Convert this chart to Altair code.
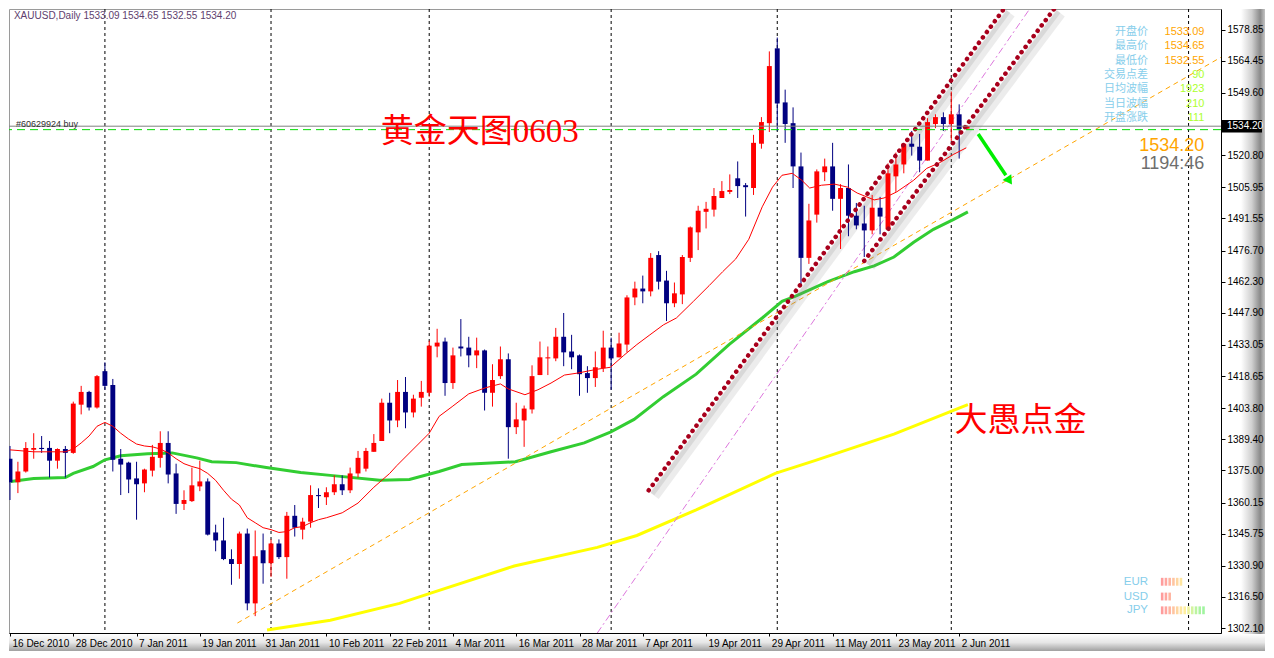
import altair as alt
import pandas as pd

# ---------------- data ----------------
tick_labels = ["16 Dec 2010", "28 Dec 2010", "7 Jan 2011", "19 Jan 2011", "31 Jan 2011",
               "10 Feb 2011", "22 Feb 2011", "4 Mar 2011", "16 Mar 2011", "28 Mar 2011",
               "7 Apr 2011", "19 Apr 2011", "29 Apr 2011", "11 May 2011", "23 May 2011",
               "2 Jun 2011"]
tick_step = 8

opens = [1380.4, 1369.5, 1374.5, 1384.5, 1385.4, 1385.4, 1379.5, 1384.9, 1383.1, 1405.4,
         1411.3, 1404.1, 1420.9, 1414.5, 1380.4, 1378.6, 1371.3, 1369.0, 1374.9, 1380.8,
         1387.7, 1373.6, 1359.5, 1360.8, 1367.6, 1369.9, 1346.3, 1342.6, 1334.0, 1331.7,
         1345.8, 1313.5, 1338.1, 1332.1, 1341.2, 1334.9, 1354.0, 1347.6, 1351.3, 1363.6,
         1362.6, 1364.9, 1368.6, 1365.8, 1373.6, 1375.8, 1383.6, 1388.6, 1406.3, 1398.1,
         1411.3, 1401.8, 1408.6, 1410.9, 1432.3, 1434.6, 1415.4, 1432.3, 1431.8, 1428.2,
         1430.5, 1410.9, 1418.6, 1426.4, 1395.0, 1398.1, 1403.2, 1419.1, 1426.8, 1426.8,
         1436.8, 1430.0, 1428.2, 1420.0, 1417.7, 1422.3, 1431.8, 1427.3, 1433.2, 1455.0,
         1459.1, 1457.8, 1474.6, 1462.8, 1452.3, 1456.4, 1473.3, 1485.1, 1494.6, 1495.6,
         1501.0, 1503.8, 1510.1, 1506.9, 1505.6, 1526.1, 1535.6, 1570.2, 1545.2, 1535.6,
         1515.6, 1473.3, 1493.3, 1512.9, 1515.6, 1500.6, 1505.6, 1492.8, 1489.2, 1486.0,
         1496.5, 1486.5, 1511.0, 1516.5, 1526.1, 1524.7, 1518.3, 1535.2, 1538.4, 1535.2,
         1539.7, 1533.09]
highs = [1386.3, 1379.0, 1388.1, 1392.2, 1390.9, 1388.6, 1385.2, 1386.3, 1406.8, 1414.1,
         1411.8, 1419.1, 1425.0, 1417.3, 1384.9, 1379.0, 1379.0, 1375.8, 1386.8, 1393.1,
         1393.1, 1378.1, 1365.8, 1376.3, 1379.5, 1371.3, 1349.9, 1353.1, 1338.5, 1346.7,
         1348.1, 1347.2, 1345.8, 1343.1, 1343.1, 1355.8, 1359.0, 1353.1, 1368.1, 1366.7,
         1367.2, 1372.7, 1372.7, 1376.3, 1384.0, 1385.4, 1391.8, 1408.2, 1410.9, 1416.8,
         1418.2, 1410.0, 1416.4, 1435.0, 1440.5, 1436.4, 1431.8, 1445.0, 1436.8, 1436.4,
         1430.9, 1424.1, 1432.3, 1429.1, 1406.3, 1405.0, 1423.6, 1434.6, 1432.3, 1440.9,
         1447.8, 1437.7, 1428.6, 1423.2, 1430.0, 1439.6, 1436.4, 1438.7, 1456.0, 1462.3,
         1465.1, 1475.5, 1476.4, 1467.3, 1461.9, 1474.6, 1487.8, 1497.4, 1499.2, 1505.6,
         1508.8, 1511.9, 1517.9, 1507.9, 1530.2, 1538.4, 1568.8, 1575.2, 1551.1, 1542.9,
         1522.0, 1498.3, 1514.2, 1519.2, 1526.5, 1507.4, 1516.5, 1498.7, 1497.4, 1502.4,
         1501.5, 1517.0, 1522.0, 1526.5, 1532.0, 1530.6, 1537.9, 1539.7, 1540.6, 1550.2,
         1544.3, 1534.65]
lows = [1361.3, 1364.5, 1374.0, 1380.4, 1383.1, 1371.7, 1375.8, 1371.7, 1382.7, 1400.9,
        1402.7, 1403.6, 1412.3, 1374.5, 1363.6, 1364.5, 1352.2, 1364.9, 1372.2, 1376.3,
        1369.0, 1354.9, 1356.7, 1360.4, 1365.4, 1344.9, 1337.6, 1333.5, 1322.1, 1324.9,
        1310.3, 1307.6, 1322.6, 1325.8, 1334.0, 1324.9, 1344.4, 1343.1, 1348.5, 1357.6,
        1359.0, 1363.6, 1363.6, 1364.5, 1371.7, 1374.5, 1383.6, 1388.6, 1392.2, 1395.0,
        1394.5, 1399.5, 1404.5, 1409.1, 1427.3, 1409.5, 1412.7, 1427.7, 1422.7, 1422.3,
        1402.7, 1404.5, 1417.3, 1380.4, 1391.8, 1385.9, 1401.3, 1419.1, 1419.1, 1425.5,
        1423.2, 1421.8, 1409.5, 1410.9, 1413.6, 1420.5, 1412.3, 1427.3, 1429.6, 1451.4,
        1452.3, 1455.5, 1458.7, 1444.1, 1450.5, 1451.9, 1471.4, 1476.9, 1486.9, 1492.4,
        1501.0, 1502.8, 1501.0, 1492.4, 1502.4, 1523.8, 1531.5, 1532.0, 1526.5, 1505.6,
        1460.5, 1470.5, 1489.6, 1508.8, 1495.1, 1477.4, 1483.3, 1486.5, 1473.7, 1484.2,
        1484.2, 1486.5, 1503.8, 1512.4, 1520.6, 1512.9, 1518.3, 1533.3, 1532.0, 1527.4,
        1519.2, 1532.55]
closes = [1369.5, 1374.5, 1385.4, 1385.4, 1384.9, 1379.5, 1384.9, 1383.1, 1405.9, 1411.3,
          1404.1, 1418.6, 1414.1, 1379.9, 1377.7, 1370.8, 1368.6, 1375.4, 1381.3, 1387.7,
          1373.1, 1359.5, 1361.3, 1368.1, 1369.9, 1345.3, 1342.6, 1334.0, 1331.7, 1345.8,
          1313.5, 1335.3, 1332.1, 1341.2, 1334.9, 1354.0, 1348.5, 1351.3, 1363.6, 1363.1,
          1364.9, 1368.6, 1365.8, 1373.6, 1380.8, 1384.0, 1387.7, 1406.3, 1398.1, 1411.3,
          1401.8, 1408.2, 1411.3, 1432.7, 1434.1, 1415.4, 1428.2, 1431.4, 1428.2, 1430.5,
          1410.9, 1416.8, 1426.4, 1395.0, 1398.6, 1403.6, 1418.6, 1427.3, 1427.3, 1436.8,
          1429.6, 1427.3, 1419.5, 1417.7, 1422.7, 1431.8, 1426.8, 1433.7, 1455.0, 1459.1,
          1457.8, 1473.3, 1462.3, 1452.3, 1456.9, 1473.7, 1487.4, 1495.1, 1496.0, 1501.9,
          1504.2, 1504.7, 1506.5, 1506.0, 1526.5, 1536.1, 1562.0, 1544.7, 1535.2, 1515.6,
          1473.3, 1490.6, 1513.3, 1515.6, 1500.6, 1505.6, 1492.8, 1488.3, 1486.0, 1496.5,
          1492.4, 1512.4, 1516.5, 1526.1, 1524.7, 1518.3, 1536.1, 1538.4, 1535.2, 1539.7,
          1532.9, 1534.20]

fast_ma_idx = [0, 3, 7, 8, 9, 10, 11, 12, 13, 14, 15, 16, 17, 18, 19, 20, 21, 22, 23, 24, 25,
               26, 27, 28, 29, 30, 31, 32, 33, 34, 35, 36, 37, 38, 39, 40, 42, 44, 46, 48, 48.9,
               53, 54.25, 55.9, 58, 60.1, 62, 63, 65.1, 66.75, 68.4, 70.1, 71.75, 74.25, 75.9,
               77.6, 79.25, 80.9, 82.6, 84.25, 86.4, 88.4, 90.1, 91.75, 93.4, 95.1, 96.4, 97.6,
               98.9, 100.1, 101.1, 102.6, 104.25, 105.9, 107.1, 109.25, 110.5, 112.1, 114.25,
               115.9, 117.6, 119.25, 120.9]
fast_ma_val = [1384.5, 1383.6, 1383.6, 1384.9, 1387.7, 1390.9, 1395.4, 1397.2, 1395.4, 1392.2,
               1389.5, 1387.2, 1386.3, 1385.9, 1384.9, 1383.1, 1380.4, 1378.1, 1376.8, 1375.8,
               1373.6, 1370.4, 1365.8, 1361.7, 1359.0, 1353.1, 1350.8, 1348.5, 1347.6, 1346.3,
               1346.7, 1348.5, 1349.0, 1350.8, 1352.2, 1353.1, 1355.4, 1359.9, 1367.2, 1373.6,
               1377.2, 1392.2, 1400.0, 1404.5, 1410.4, 1413.2, 1415.0, 1412.7, 1410.0, 1412.3,
               1415.4, 1419.1, 1420.0, 1421.8, 1422.7, 1428.2, 1433.2, 1437.7, 1442.3, 1445.5,
               1453.2, 1460.5, 1466.9, 1472.8, 1481.9, 1496.9, 1506.0, 1511.5, 1512.4, 1509.2,
               1505.6, 1506.9, 1507.4, 1506.0, 1503.3, 1500.1, 1501.0, 1503.8, 1509.2, 1514.7,
               1517.4, 1521.1, 1524.2]
mid_ma_idx = [0.1, 3, 7, 8, 10.5, 12, 14, 17.4, 20.5, 23.6, 25.5, 28.6, 32.4, 36.75, 40.5,
              46.75, 50.5, 54.25, 57.1, 63.9, 68.4, 72.6, 75.9, 78.9, 82.6, 86.75, 90.9, 95.1,
              97.6, 99.25, 103.4, 106.75, 109.25, 111.75, 114.25, 116.75, 119.25, 121.1]
mid_ma_val = [1369.9, 1371.3, 1371.7, 1373.6, 1376.8, 1379.9, 1381.8, 1382.7, 1383.1, 1380.8,
              1379.0, 1378.6, 1376.3, 1374.0, 1372.7, 1370.4, 1370.8, 1374.5, 1377.7, 1379.0,
              1383.6, 1387.7, 1392.7, 1398.6, 1409.1, 1419.5, 1433.2, 1445.5, 1453.2, 1455.5,
              1462.3, 1466.9, 1469.6, 1473.7, 1480.5, 1486.5, 1491.0, 1494.6]
slow_ma_idx = [32.5, 40.5, 49.25, 53, 63.75, 74.25, 79.25, 86.75, 96.75, 101.75, 111.75, 121.1]
slow_ma_val = [1301.2, 1305.7, 1313.5, 1318.0, 1330.8, 1339.4, 1344.9, 1356.7, 1373.6, 1379.5,
               1391.8, 1405.4]

separator_idx = [12, 33, 53, 76, 97, 119, 149]
price_ticks = [1302.10, 1316.50, 1330.90, 1345.75, 1360.15, 1375.00, 1389.40, 1403.80,
               1418.65, 1433.05, 1447.90, 1462.30, 1476.70, 1491.55, 1505.95, 1520.80,
               1549.60, 1564.45, 1578.85]
last_price = 1534.20
order_price = 1532.6
order_label = "#60629924 buy"
header_text = "XAUUSD,Daily  1533.09 1534.65 1532.55 1534.20"

trend_orange_idx = [28.75, 153.1]
trend_orange_val = [1304.4, 1566.1]
channel_a_idx = [80.75, 125.75]
channel_a_val = [1365.8, 1588.9]
channel_b_idx = [108.0, 132.1]
channel_b_val = [1471.9, 1588.9]
violet_idx = [74.25, 129.0]
violet_val = [1299.8, 1588.9]
arrow_idx = [122.4, 125.9]
arrow_val = [1530.6, 1511.5]

info_labels = ["开盘价", "最高价", "最低价", "交易点差", "日均波幅", "当日波幅", "开盘涨跌"]
info_values = ["1533.09", "1534.65", "1532.55", "90", "1923", "210", "111"]
big_price = "1534.20"
countdown = "1194:46"
ccy_names = ["EUR", "USD", "JPY"]
ccy_strength = [6, 3, 12]
ccy_palette = ["#ff9c9c", "#ffa6a0", "#ffb4a0", "#ffc4a0", "#ffd6a0", "#ffe6a0",
               "#fff0a0", "#eef4a0", "#d4f4a0", "#bcf4a0", "#aaf4a0", "#a0f4a0"]
title_text = "黄金天图0603"
sign_text = "大愚点金"

# ---------------- layout helpers ----------------
W, H = 1212, 624
I0, I1 = -0.125, 153.1
P0, P1 = 1299.8, 1588.4
FONT = "Liberation Sans"
CJK = "Noto Sans CJK SC"


def px_i(x):
    return (x - 6) / 8.0


def py_p(y):
    return 1302.1 + (635 - y) * 0.4552


xs = alt.Scale(domain=[I0, I1], nice=False, zero=False)
ys = alt.Scale(domain=[P0, P1], nice=False, zero=False)
label_js = "[" + ",".join("'%s'" % t for t in tick_labels) + "]"
xaxis = alt.Axis(values=[k * tick_step for k in range(len(tick_labels))],
                 labelExpr=f"{label_js}[round(datum.value/{tick_step})]",
                 title=None, grid=False, orient="bottom", labelAlign="left",
                 labelOffset=2, labelPadding=2, labelFont=FONT, labelFontSize=10,
                 labelColor="black", tickColor="black", tickSize=3, domainColor="black",
                 labelFlush=False, labelOverlap=False, labelBound=False, zindex=1)
yaxis = alt.Axis(values=price_ticks, format=".2f", title=None, grid=False, orient="right",
                 labelFont=FONT, labelFontSize=10, labelColor="black", tickColor="black",
                 tickSize=4, domainColor="black", labelPadding=2, labelFlush=False,
                 labelOverlap=False, zindex=1)


def X(f):
    return alt.X(f, type="quantitative", scale=xs, axis=xaxis)


def Y(f):
    return alt.Y(f, type="quantitative", scale=ys, axis=yaxis)


def line_layer(idx, val, **kw):
    d = pd.DataFrame({"i": idx, "p": val})
    return alt.Chart(d).mark_line(clip=True, **kw).encode(x=X("i"), y=Y("p"), order="i:Q")


dummy = pd.DataFrame({"a": [0]})

# ---------------- candles ----------------
n = len(opens)
cd = pd.DataFrame({"i": list(range(n)), "o": opens, "h": highs, "l": lows, "c": closes})
cd["dir"] = ["bull" if c >= o else "bear" for o, c in zip(opens, closes)]
cd["x1"] = cd["i"] - 0.31
cd["x2"] = cd["i"] + 0.31
cd["bt"] = cd[["o", "c"]].max(axis=1)
cd["bb"] = cd[["o", "c"]].min(axis=1)
thin = (cd["bt"] - cd["bb"]) < 0.45
cd.loc[thin, "bt"] = cd.loc[thin, "bt"] + 0.25
cd.loc[thin, "bb"] = cd.loc[thin, "bb"] - 0.25
ccol = alt.Color("dir:N", scale=alt.Scale(domain=["bull", "bear"], range=["#ff0000", "#000080"]),
                 legend=None)
wicks = alt.Chart(cd).mark_rule(strokeWidth=1, clip=True).encode(x=X("i"), y=Y("l"), y2="h:Q",
                                                                   color=ccol)
bodies = alt.Chart(cd).mark_rect(clip=True).encode(x=X("x1"), x2="x2:Q", y=Y("bb"), y2="bt:Q",
                                                     color=ccol)

# ---------------- background & lines ----------------
seps = alt.Chart(pd.DataFrame({"i": separator_idx})).mark_rule(
    color="black", strokeDash=[3, 3], strokeWidth=1).encode(x=X("i"))

slow = line_layer(slow_ma_idx, slow_ma_val, color="#ffff00", strokeWidth=3)
mid = line_layer(mid_ma_idx, mid_ma_val, color="#32cd32", strokeWidth=3)
fast = line_layer(fast_ma_idx, fast_ma_val, color="#ff0000", strokeWidth=1)
orange = line_layer(trend_orange_idx, trend_orange_val, color="#ffa500", strokeWidth=1,
                    strokeDash=[5, 4])
violet = line_layer(violet_idx, violet_val, color="#dd77dd", strokeWidth=1,
                    strokeDash=[7, 3, 2, 3])

shadows = []
for idx, val in [(channel_a_idx, channel_a_val), (channel_b_idx, channel_b_val)]:
    shadows.append(line_layer([v + 0.75 for v in idx], [v - 2.6 for v in val],
                              color="#808080", strokeWidth=10, opacity=0.15))
    shadows.append(line_layer([v + 0.45 for v in idx], [v - 1.6 for v in val],
                              color="#808080", strokeWidth=5, opacity=0.18))
channels = [line_layer(idx, val, color="#a8001c", strokeWidth=4.5, strokeDash=[0.1, 6.6],
                       strokeCap="round")
            for idx, val in [(channel_a_idx, channel_a_val), (channel_b_idx, channel_b_val)]]

hline = alt.Chart(pd.DataFrame({"p": [last_price]})).mark_rule(
    color="#808080", strokeWidth=1).encode(y=Y("p"))
oline = alt.Chart(pd.DataFrame({"p": [order_price]})).mark_rule(
    color="#00dd00", strokeWidth=1, strokeDash=[8, 5]).encode(y=Y("p"))

arrow = line_layer(arrow_idx, arrow_val, color="#00ee00", strokeWidth=3.5)
ahead = alt.Chart(pd.DataFrame({"i": [arrow_idx[1] + 0.35], "p": [arrow_val[1] - 2.0]})).mark_point(
    shape="triangle", filled=True, size=110, angle=146, color="#00ee00", opacity=1).encode(
    x=X("i"), y=Y("p"))

# ---------------- texts ----------------
def text_layer(rows, **kw):
    d = pd.DataFrame(rows)
    enc = dict(x=X("i"), y=Y("p"), text="t:N")
    if "col" in d.columns:
        enc["color"] = alt.Color("col:N", scale=None)
    return alt.Chart(d).mark_text(**kw).encode(**enc)


header = text_layer([{"i": px_i(10), "p": py_p(13), "t": header_text}],
                    align="left", baseline="middle", font=FONT, fontSize=10, color="#5e3e6e")
order_txt = text_layer([{"i": px_i(12), "p": py_p(123), "t": order_label}],
                       align="left", baseline="middle", font=FONT, fontSize=9, color="#303030")

big_font = "Liberation Serif, " + CJK
big_rows = [{"i": px_i(481), "p": py_p(131), "t": title_text},
            {"i": px_i(1028), "p": py_p(425), "t": sign_text}]
big_text = text_layer(big_rows, align="center", baseline="middle", font=big_font, fontSize=33,
                      color="#ff0000")

row_y = [29 + 14.7 * k for k in range(len(info_labels))]
info_l = text_layer([{"i": px_i(1157), "p": py_p(y), "t": t} for y, t in zip(row_y, info_labels)],
                    align="right", baseline="middle", font=CJK, fontSize=11, color="#87ceeb")
info_v = text_layer([{"i": px_i(1214), "p": py_p(y), "t": t,
                      "col": "#ffa500" if k < 3 else "#adff2f"}
                     for k, (y, t) in enumerate(zip(row_y, info_values))],
                    align="right", baseline="middle", font=FONT, fontSize=11)
big_p = text_layer([{"i": px_i(1214), "p": py_p(145), "t": big_price, "col": "#ffa500"},
                    {"i": px_i(1214), "p": py_p(164), "t": countdown, "col": "#6e6e6e"}],
                   align="right", baseline="middle", font=FONT, fontSize=18)

ccy_y = [588, 603, 617]
ccy_l = text_layer([{"i": px_i(1157), "p": py_p(y), "t": t} for y, t in zip(ccy_y, ccy_names)],
                   align="right", baseline="middle", font=FONT, fontSize=11.5, color="#87ceeb")
blocks = []
for y, s in zip(ccy_y, ccy_strength):
    for k in range(s):
        x0 = 1170 + 3.8 * k
        blocks.append({"i": px_i(x0), "i2": px_i(x0 + 2.6), "p": py_p(y + 4), "p2": py_p(y - 4),
                       "col": ccy_palette[min(k, len(ccy_palette) - 1)]})
ccy_b = alt.Chart(pd.DataFrame(blocks)).mark_rect().encode(
    x=X("i"), x2="i2:Q", y=Y("p"), y2="p2:Q", color=alt.Color("col:N", scale=None))

# ---------------- frame decorations outside the plot ----------------
right_band = alt.Chart(dummy).mark_rect(color=alt.LinearGradient(
    gradient="linear", x1=0, x2=1, y1=0, y2=0,
    stops=[alt.GradientStop(color="#ffffff", offset=0),
           alt.GradientStop(color="#d0d0d0", offset=0.45),
           alt.GradientStop(color="#8a8a8a", offset=0.8),
           alt.GradientStop(color="#c4c4c4", offset=1)])).encode(
    x=alt.value(W + 20), x2=alt.value(W + 44), y=alt.value(0), y2=alt.value(H + 18))
bottom_band = alt.Chart(dummy).mark_rect(color=alt.LinearGradient(
    gradient="linear", x1=0, x2=0, y1=0, y2=1,
    stops=[alt.GradientStop(color="#ffffff", offset=0),
           alt.GradientStop(color="#e6e6e6", offset=0.5),
           alt.GradientStop(color="#a0a0a0", offset=1)])).encode(
    x=alt.value(0), x2=alt.value(W + 44), y=alt.value(H + 1), y2=alt.value(H + 18))

price_box = alt.Chart(pd.DataFrame({"p": [last_price + 2.9], "p2": [last_price - 2.9]})).mark_rect(
    color="black").encode(x=alt.value(W + 1), x2=alt.value(W + 41), y=Y("p"), y2="p2:Q")
price_txt = alt.Chart(pd.DataFrame({"p": [last_price], "t": ["%.2f" % last_price]})).mark_text(
    align="left", baseline="middle", font=FONT, fontSize=10, color="white").encode(
    x=alt.value(W + 6), y=Y("p"), text="t:N")

chart = alt.layer(
    right_band, bottom_band,
    seps, slow, mid, orange, violet, *shadows,
    wicks, bodies, fast, *channels, hline, oline, arrow, ahead,
    header, order_txt, big_text, info_l, info_v, big_p, ccy_l, ccy_b,
    price_box, price_txt,
).properties(width=W, height=H, padding={"left": 0, "top": 0, "right": 0, "bottom": 0},
             background="white").configure_view(stroke="#9a9a9a", strokeWidth=1)

chart.save("out.html", embed_options={"renderer": "svg", "actions": False})
